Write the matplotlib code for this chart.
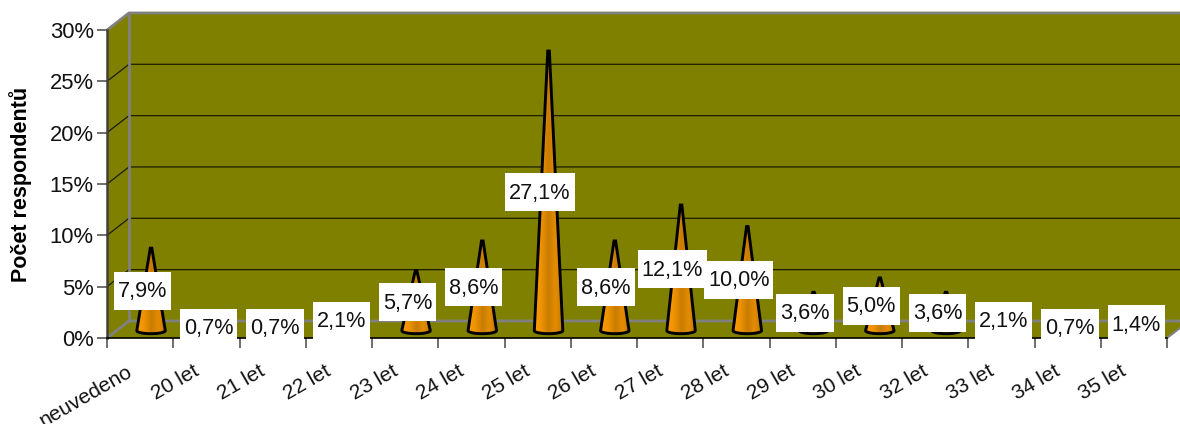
import numpy as np
import matplotlib
matplotlib.use('Agg')
import matplotlib.pyplot as plt
from matplotlib.patches import Polygon, Rectangle
from matplotlib.colors import LinearSegmentedColormap

plt.rcParams['font.family'] = ['Liberation Sans', 'DejaVu Sans']

categories = ['neuvedeno', '20 let', '21 let', '22 let', '23 let', '24 let', '25 let', '26 let',
              '27 let', '28 let', '29 let', '30 let', '32 let', '33 let', '34 let', '35 let']
values = [7.9, 0.7, 0.7, 2.1, 5.7, 8.6, 27.1, 8.6, 12.1, 10.0, 3.6, 5.0, 3.6, 2.1, 0.7, 1.4]
y_ticks = [0, 5, 10, 15, 20, 25, 30]
y_title = 'Počet respondentů'

OLIVE = '#808000'
GREY = '#808080'
# depth of the fake 3d box, in data units
dx = 0.332
dy = 1.66

fig = plt.figure(figsize=(11.8, 4.24), dpi=100)
ax = fig.add_axes([107 / 1180, 86 / 424, 1060 / 1180, 308 / 424])
n = len(categories)
ax.set_xlim(0, n)
ax.set_ylim(0, 30)
px_x = n / 1060
px_y = 30 / 308

# walls and floor
ax.add_patch(Polygon([(dx, dy), (n + dx, dy), (n + dx, 30 + dy), (dx, 30 + dy)], fc=OLIVE, ec='none', zorder=1, clip_on=False))
ax.add_patch(Polygon([(0, 0), (dx, dy), (dx, 30 + dy), (0, 30)], fc=OLIVE, ec='none', zorder=1, clip_on=False))
ax.add_patch(Polygon([(0, 0), (n, 0), (n + dx, dy), (dx, dy)], fc=OLIVE, ec='none', zorder=1, clip_on=False))

# gridlines
for t in y_ticks[1:-1]:
    ax.plot([0, dx, n + dx], [t, t + dy, t + dy], color='#1c1c00', lw=0.9, zorder=2, clip_on=False)

# box edges
ax.plot([0, dx, n + dx], [0, dy, dy], color=GREY, lw=2, zorder=2, clip_on=False)
ax.plot([0, dx, n + dx], [30, 30 + dy, 30 + dy], color=GREY, lw=2, zorder=2, clip_on=False)
ax.plot([dx, dx], [dy, 30 + dy], color=GREY, lw=2, zorder=2, clip_on=False)
ax.plot([n, n + dx], [0, dy], color=GREY, lw=1.5, zorder=2, clip_on=False)

cone_cmap = LinearSegmentedColormap.from_list('cone', ['#ff9c00', '#ee9200', '#c87c00', '#e48c00', '#c27800'])
grad = np.linspace(0, 1, 64).reshape(1, -1)

fig.canvas.draw()
rend = fig.canvas.get_renderer()

half = 0.215
for i, v in enumerate(values):
    cx = i + 0.5 + 0.165
    top = v + 0.85
    t = np.linspace(np.pi, 2 * np.pi, 30)
    base_x = cx + half * np.cos(t)
    base_y = 0.72 + 0.3 * np.sin(t)
    pts = list(zip(base_x, base_y)) + [(cx + 0.012, top), (cx - 0.012, top)]
    cone = Polygon(pts, closed=True, fc='none', ec='black', lw=2.1, zorder=4, joinstyle='miter', clip_on=False)
    ax.add_patch(cone)
    im = ax.imshow(grad, extent=[cx - half, cx + half, 0.3, top], aspect='auto', cmap=cone_cmap, zorder=3)
    im.set_clip_path(cone)

    lx = i + 0.5 + 0.035
    ly = v / 2 + 0.65
    txt = ax.text(lx, ly - 1 * px_y, f'{v:.1f}%'.replace('.', ','), ha='center', va='center',
                  fontsize=15.6, color='#111111', zorder=7, clip_on=False)
    w = txt.get_window_extent(rend).width + 8
    ax.add_patch(Rectangle((lx - w / 2 * px_x, ly - 19 * px_y), w * px_x, 38 * px_y, fc='white', ec='none',
                           zorder=6, clip_on=False))

ax.set_xlim(0, n)
ax.set_ylim(0, 30)
ax.patch.set_visible(False)

for s in ['top', 'right']:
    ax.spines[s].set_visible(False)
ax.spines['left'].set_color('#404040')
ax.spines['left'].set_linewidth(1.8)
ax.spines['bottom'].set_color('black')
ax.spines['bottom'].set_linewidth(1.2)
ax.spines['left'].set_zorder(3)
ax.spines['bottom'].set_zorder(3)

ax.set_yticks(y_ticks)
ax.set_yticklabels([f'{t}%' for t in y_ticks], fontsize=15.8, color='#111111')
ax.tick_params(axis='y', length=7.5, width=1.2, color='#555555', pad=2)

ax.set_xticks(np.arange(n + 1))
ax.set_xticklabels([])
ax.tick_params(axis='x', which='major', length=7.5, width=1.2, color='#555555')
# label anchors sit a little left of the category centre
ax.set_xticks(np.arange(n) + 0.29, minor=True)
ax.set_xticklabels(categories, minor=True, rotation=30, ha='right', rotation_mode='anchor', fontsize=15, color='#111111')
ax.tick_params(axis='x', which='minor', length=0, pad=17)

fig.text(20.5 / 1180, 1 - 184 / 424, y_title, rotation=90, ha='center', va='center', fontsize=15.5, fontweight='bold', color='black')

fig.savefig('out.png', dpi=100)
